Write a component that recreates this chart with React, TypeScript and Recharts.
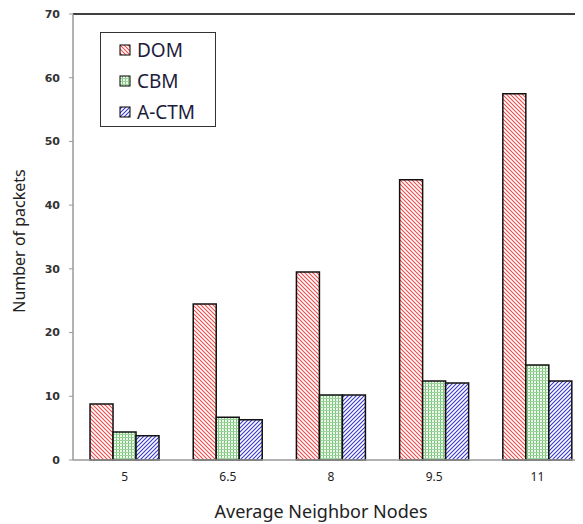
import React from "react";
import { BarChart, Bar, XAxis, YAxis, ReferenceLine, Label } from "recharts";

const categories = ["5", "6.5", "8", "9.5", "11"];
const domValues = [8.8, 24.5, 29.5, 44, 57.5];
const cbmValues = [4.4, 6.7, 10.2, 12.4, 14.9];
const actmValues = [3.8, 6.3, 10.2, 12.1, 12.4];
const yTicks = [0, 10, 20, 30, 40, 50, 60, 70];

const data = categories.map((c, i) => ({
  name: c,
  DOM: domValues[i],
  CBM: cbmValues[i],
  ACTM: actmValues[i],
}));

const seriesInfo = [
  { key: "DOM", label: "DOM", fill: "url(#pDOM)" },
  { key: "CBM", label: "CBM", fill: "url(#pCBM)" },
  { key: "ACTM", label: "A-CTM", fill: "url(#pACTM)" },
];

const FONT = "'Noto Sans', 'Open Sans', sans-serif";

const Patterns = () => (
  <defs>
    <pattern id="pDOM" patternUnits="userSpaceOnUse" width={4} height={4}>
      <rect width={4} height={4} fill="#fff" />
      <path d="M-1,-1 L5,5 M-1,3 L1,5 M3,-1 L5,1" stroke="#f24a4a" strokeWidth={1.1} />
    </pattern>
    <pattern id="pACTM" patternUnits="userSpaceOnUse" width={4} height={4}>
      <rect width={4} height={4} fill="#fff" />
      <path d="M-1,5 L5,-1 M-1,1 L1,-1 M3,5 L5,3" stroke="#3535d0" strokeWidth={1.1} />
    </pattern>
    <pattern id="pCBM" patternUnits="userSpaceOnUse" width={3} height={3}>
      <rect width={3} height={3} fill="#eef8ec" />
      <rect x={0} y={0} width={1} height={3} fill="#7cc27a" />
      <rect x={0} y={0} width={3} height={1} fill="#9ad49a" />
    </pattern>
  </defs>
);

const LegendBox = () => (
  <div
    style={{
      position: "absolute",
      left: 92,
      top: 24,
      border: "1.5px solid #333",
      width: 116,
      height: 95,
      boxSizing: "border-box",
      background: "#fff",
      paddingTop: 1,
    }}
  >
    {seriesInfo.map((s) => (
      <div key={s.key} style={{ display: "flex", alignItems: "center", height: 31, paddingLeft: 18 }}>
        <svg width={12} height={12} style={{ marginRight: 6 }}>
          <rect x={1} y={1} width={10} height={10} fill={s.fill} stroke="#000" strokeWidth={1} />
        </svg>
        <span style={{ fontFamily: FONT, fontSize: 19, color: "#1c1c3c", lineHeight: "20px" }}>{s.label}</span>
      </div>
    ))}
  </div>
);

export default function App() {
  return (
    <div style={{ width: 575, overflow: "hidden", position: "relative" }}>
      <BarChart
        width={585}
        height={516}
        data={data}
        margin={{ top: 6, right: 4, bottom: 0, left: 0 }}
        barCategoryGap="16.5%"
        barGap={0}
      >
        <Patterns />
        <XAxis
          dataKey="name"
          height={64}
          tickLine={false}
          tickSize={0}
          tickMargin={12}
          axisLine={{ stroke: "#999", strokeWidth: 1.5 }}
          tick={{ fill: "#222", fontSize: 12, fontFamily: FONT }}
        >
          <Label
            content={({ viewBox }: any) => (
              <text
                x={viewBox.x + viewBox.width / 2 - 10}
                y={viewBox.y + 58}
                textAnchor="middle"
                fontFamily={FONT}
                fontSize={18}
                fill="#222"
              >
                Average Neighbor Nodes
              </text>
            )}
          />
        </XAxis>
        <YAxis
          width={65}
          domain={[0, 70]}
          ticks={yTicks}
          interval={0}
          tickSize={4}
          tickMargin={9}
          axisLine={{ stroke: "#999", strokeWidth: 1.5 }}
          tickLine={{ stroke: "#999" }}
          tick={{ fill: "#333", fontSize: 11, fontWeight: "bold", fontFamily: "'DejaVu Sans', sans-serif" }}
        >
          <Label
            content={({ viewBox }: any) => {
              const cx = viewBox.x + 11;
              const cy = viewBox.y + viewBox.height / 2 + 4;
              return (
                <text
                  x={cx}
                  y={cy}
                  transform={`rotate(-90 ${cx} ${cy})`}
                  textAnchor="middle"
                  dominantBaseline="central"
                  fontFamily={FONT}
                  fontSize={16}
                  fill="#222"
                >
                  Number of packets
                </text>
              );
            }}
          />
        </YAxis>
        <ReferenceLine y={70} stroke="#000" strokeWidth={1.5} ifOverflow="visible" />
        {seriesInfo.map((s) => (
          <Bar
            key={s.key}
            dataKey={s.key}
            name={s.label}
            fill={s.fill}
            stroke="#111"
            strokeWidth={1.5}
            isAnimationActive={false}
          />
        ))}
      </BarChart>
      <svg width={0} height={0} style={{ position: "absolute" }}>
        <Patterns />
      </svg>
      <LegendBox />
    </div>
  );
}
